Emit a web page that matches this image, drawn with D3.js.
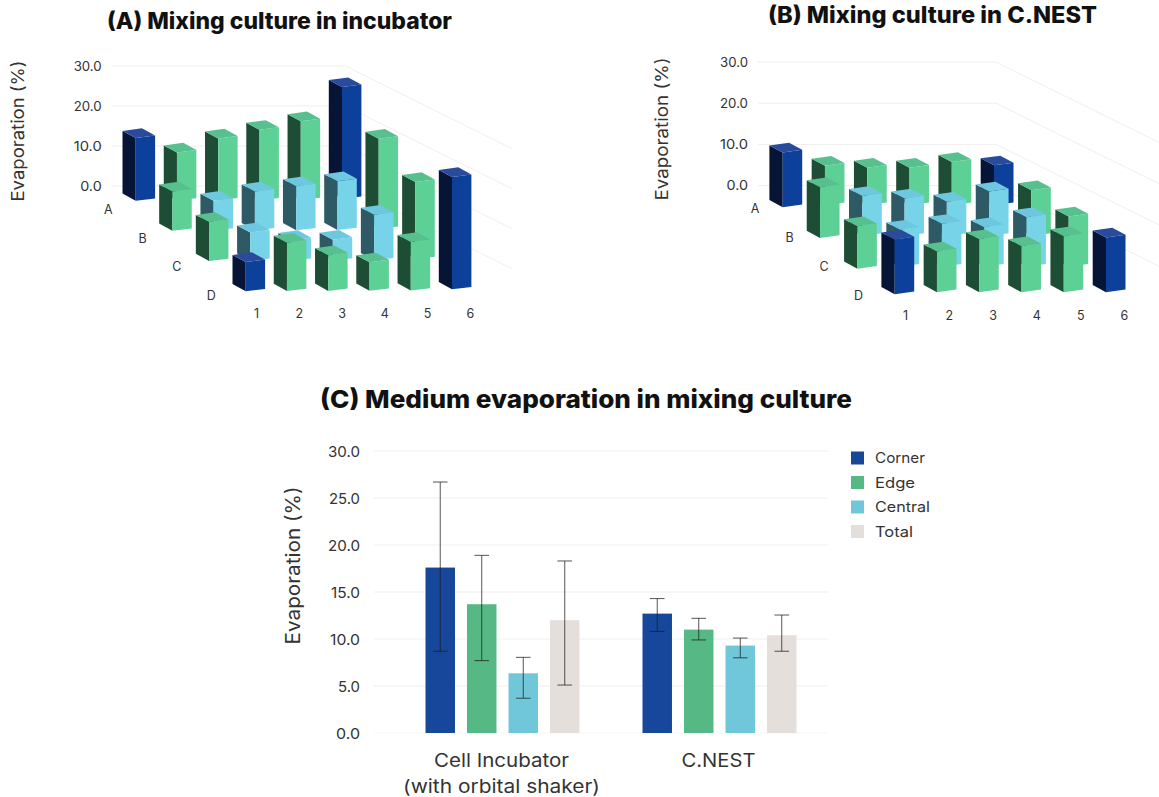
<!DOCTYPE html>
<html><head><meta charset="utf-8">
<script src="https://cdn.jsdelivr.net/npm/d3@7/dist/d3.min.js"></script>
<style>
html,body{margin:0;padding:0;background:#fff}
svg{display:block}
text{font-family:Inter,"Open Sans",sans-serif;fill:#333}
</style></head><body><svg id="c" width="1159" height="797"></svg>
<script>
// ---- data ----
const rowLabels = ["A","B","C","D"];
const colLabels = ["1","2","3","4","5","6"];
const ticks3d = [0,10,20,30];
const incubatorA = [15.7,12.0,15.5,17.6,19.7,27.9];
const incubatorB = [9.8,7.45,9.75,11.0,12.2,22.5];
const incubatorC = [9.75,7.1,5.2,5.2,11.4,19.25];
const incubatorD = [7.3,12.1,8.9,7.1,12.15,28.05];
const nestA = [13.3,9.6,9.1,9.1,10.5,9.7];
const nestB = [12.3,9.7,9.1,8.3,10.8,11.1];
const nestC = [10.3,9.0,10.4,9.6,12.0,12.2];
const nestD = [13.3,9.9,12.9,11.2,13.6,13.3];
const groups = ["Cell Incubator\n(with orbital shaker)","C.NEST"];
const series = ["Corner","Edge","Central","Total"];
const meansIncubator = [17.6,13.7,6.35,12.0];
const lowIncubator = [8.7,7.7,3.7,5.1];
const highIncubator = [26.7,18.9,8.05,18.3];
const meansNest = [12.7,11.0,9.3,10.4];
const lowNest = [10.8,9.9,8.0,8.7];
const highNest = [14.3,12.2,10.1,12.55];
const ticks2d = [0,5,10,15,20,25,30];

const svg = d3.select("#c");
const FONT_TICK = 13, GRID = "#efefef";

const palette = {
  corner:{top:"#2a4b9b",right:"#0c409a",left:"#061535"},
  edge:{top:"#57c08e",right:"#5dd095",left:"#1e4d35"},
  central:{top:"#6dc8df",right:"#76d3e8",left:"#2e5a65"}
};

function fit(sel,w){ sel.attr("textLength",w).attr("lengthAdjust","spacingAndGlyphs"); return sel; }

function panel(o){
  const g = svg.append("g");
  const y = d3.scaleLinear().domain([0,30]).range([0,-30*o.unit]);
  ticks3d.forEach(t=>{
    g.append("path").attr("fill","none").attr("stroke",GRID).attr("stroke-width",1)
      .attr("d",d3.line()([[o.gridL,o.axis0+y(t)],[o.gridM,o.axis0+y(t)],[o.gridR,o.axis0+y(t)+o.gridDrop]]));
    fit(g.append("text").attr("x",o.gridL-10).attr("y",o.axis0+y(t)+4.8).attr("text-anchor","end")
      .attr("font-size",FONT_TICK).text(d3.format(".1f")(t)),t===0?21.5:28);
  });
  const xCol = d3.scaleLinear().domain([0,5]).range(o.colX);
  const xRow = d3.scaleLinear().domain([0,3]).range([0,o.rowDx]);
  const yRow = d3.scaleLinear().domain([0,1,2,3]).range(o.rowY);
  const yCol = d3.scaleLinear().domain(o.colYd).range(o.colYr);
  const f = o.face;
  o.rows.forEach((vals,r)=>{
    vals.forEach((v,c)=>{
      const kind = ((r===0||r===3)&&(c===0||c===5))?"corner":(r===0||r===3||c===0||c===5)?"edge":"central";
      const col = palette[kind];
      const x = xCol(c)+xRow(r), b = yRow(r)+yCol(c), t = b+y(v);
      g.append("path").attr("fill",col.left).attr("d",d3.line()([[x,b],[x+f.lx,b+f.lb],[x+f.lx,t+f.lt],[x,t]])+"Z");
      g.append("path").attr("fill",col.right).attr("d",d3.line()([[x,b],[x+f.rx,b+f.rb],[x+f.rx,t+f.rt],[x,t]])+"Z");
      g.append("path").attr("fill",col.top).attr("d",d3.line()([[x,t],[x+f.lx,t+f.lt],[x+f.bx,t+f.bt],[x+f.rx,t+f.rt]])+"Z");
    });
  });
  rowLabels.forEach((l,i)=>{
    g.append("text").attr("x",o.rowLabX+i*o.rowLabDx).attr("y",o.rowLabY+i*o.rowLabDy)
      .attr("text-anchor","middle").attr("font-size",FONT_TICK-0.5).text(l);
  });
  colLabels.forEach((l,i)=>{
    g.append("text").attr("x",o.colLabX(i)).attr("y",o.colLabY).attr("text-anchor","middle")
      .attr("font-size",FONT_TICK-0.5).text(l);
  });
  fit(g.append("text").attr("transform",`translate(${o.yTitleX},${o.yTitleY}) rotate(-90)`)
    .attr("text-anchor","middle").attr("font-size",17.5).text("Evaporation (%)"),o.yTitleLen);
  fit(g.append("text").attr("x",o.titleX).attr("y",o.titleY).attr("text-anchor","middle")
    .attr("font-size",22.5).attr("font-weight",800).style("fill","#111").text(o.title),o.titleLen);
}

panel({title:"(A) Mixing culture in incubator",titleX:279.5,titleY:29,titleLen:345,yTitleX:23.5,yTitleY:131,yTitleLen:141,
  unit:4,axis0:186,gridL:111.7,gridM:345.3,gridR:512.8,gridDrop:83,
  colX:[135.7,342],rowDx:110,rowY:[200.7,230.7,261,291.2],colYd:[0,4,5],colYr:[0,-0.6,-2],
  face:{lx:-13.2,lb:-7.3,lt:-7,rx:19.4,rb:-2.3,rt:-2.5,bx:6.2,bt:-9.7},
  rows:[incubatorA,incubatorB,incubatorC,incubatorD],
  rowLabX:108.3,rowLabDx:34.3,rowLabY:214,rowLabDy:28.5,
  colLabX:d3.scaleLinear().domain([0,5]).range([256.5,470.3]),colLabY:318
});
panel({title:"(B) Mixing culture in C.NEST",titleX:932.5,titleY:23,titleLen:329,yTitleX:668,yTitleY:129,yTitleLen:143,
  unit:4.12,axis0:185.6,gridL:758,gridM:996,gridR:1160,gridDrop:81,
  colX:[782.7,994],rowDx:112,rowY:[205.3,236,266.7,292.3],colYd:[0,1,5],colYr:[2,0,0],
  face:{lx:-13.3,lb:-7.3,lt:-7,rx:19.5,rb:-2.7,rt:-2.7,bx:6.3,bt:-9.7},
  rows:[nestA,nestB,nestC,nestD],
  rowLabX:755,rowLabDx:34.5,rowLabY:213,rowLabDy:29,
  colLabX:d3.scaleLinear().domain([0,5]).range([905.5,1124.5]),colLabY:320
});

// ---- panel C ----
const gc = svg.append("g");
const yC = d3.scaleLinear().domain([0,30]).range([733,451]);
const x0 = d3.scaleBand().domain(groups).range([394,828]);
const x1 = d3.scaleBand().domain(series).range([0,154]).paddingInner(0.29);
const colors = d3.scaleOrdinal().domain(series).range(["#17479a","#56b985","#71c7da","#e5dfdc"]);
const tickWidths = [24,22,30,29,32,31,32];
ticks2d.forEach((t,i)=>{
  gc.append("line").attr("x1",374).attr("x2",828).attr("y1",yC(t)).attr("y2",yC(t))
    .attr("stroke",t===0?"#f7f7f7":"#efefef").attr("stroke-width",1.2);
  fit(gc.append("text").attr("x",360).attr("y",yC(t)+5.5).attr("text-anchor","end")
    .attr("font-size",15).text(d3.format(".1f")(t)),tickWidths[i]);
});
const sets = [[meansIncubator,lowIncubator,highIncubator],[meansNest,lowNest,highNest]];
const labelLens = [[135,197],[74]];
groups.forEach((grp,gi)=>{
  const ox = x0(grp)+x0.bandwidth()/2-77;
  const [m,lo,hi] = sets[gi];
  series.forEach((s,i)=>{
    gc.append("rect").attr("x",ox+x1(s)).attr("width",x1.bandwidth())
      .attr("y",yC(m[i])).attr("height",yC(0)-yC(m[i])).attr("fill",colors(s));
  });
  series.forEach((s,i)=>{
    const cx = ox+x1(s)+x1.bandwidth()/2;
    const ec = "rgba(30,30,30,.75)";
    gc.append("line").attr("x1",cx).attr("x2",cx).attr("y1",yC(lo[i])).attr("y2",yC(hi[i])).attr("stroke",ec);
    [lo[i],hi[i]].forEach(v=>gc.append("line").attr("x1",cx-7.3).attr("x2",cx+7.3).attr("y1",yC(v)).attr("y2",yC(v)).attr("stroke",ec));
  });
  grp.split("\n").forEach((line,li)=>{
    fit(gc.append("text").attr("x",x0(grp)+x0.bandwidth()/2-1).attr("y",767+li*25.5).attr("text-anchor","middle")
      .attr("font-size",18.5).text(line),labelLens[gi][li]);
  });
});
fit(gc.append("text").attr("transform","translate(299.5,565.5) rotate(-90)").attr("text-anchor","middle")
  .attr("font-size",20).text("Evaporation (%)"),158);
fit(gc.append("text").attr("x",586).attr("y",408).attr("text-anchor","middle").attr("font-size",25)
  .attr("font-weight",800).style("fill","#111").text("(C) Medium evaporation in mixing culture"),532);
const legY = d3.scaleLinear().domain([0,3]).range([458,531.5]);
const legLens = [50,40,55,38];
series.forEach((s,i)=>{
  gc.append("rect").attr("x",851).attr("y",legY(i)-6.5).attr("width",13).attr("height",13).attr("fill",colors(s));
  fit(gc.append("text").attr("x",875).attr("y",legY(i)+5).attr("font-size",14.5).text(s),legLens[i]);
});
</script></body></html>
